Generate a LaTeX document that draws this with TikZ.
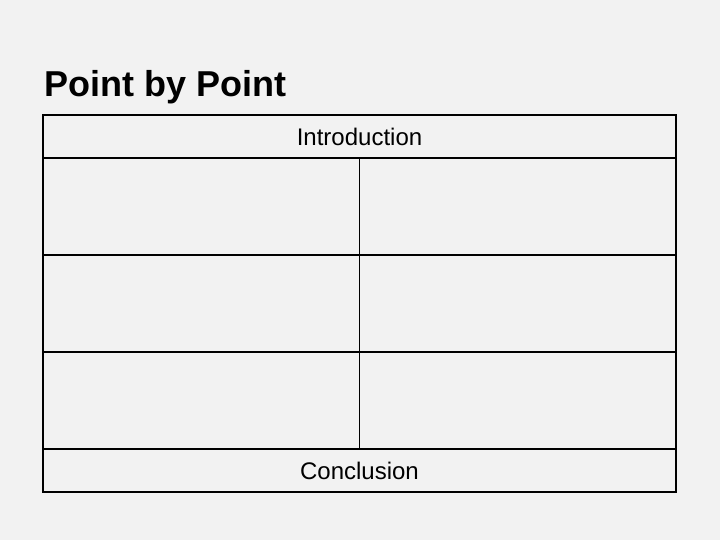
\documentclass[tikz,border=0pt]{standalone}
\usepackage{fontspec}
\setmainfont{Liberation Sans}
\usetikzlibrary{positioning}
\definecolor{paper}{HTML}{F2F2F2}
\tikzset{node distance=0pt, row/.style={draw,rectangle,line width=0.6pt,inner sep=0pt,outer sep=0pt,minimum width=316.5pt,minimum height=21.5pt,font=\fontsize{12}{14}\selectfont}, cell/.style={draw,rectangle,line width=0.6pt,inner sep=0pt,outer sep=0pt,minimum width=158.25pt,minimum height=48.5pt}}

\begin{document}
\begin{tikzpicture}
				\fill[paper] (0pt,0pt) rectangle (360pt,-270pt);
				\useasboundingbox (0pt,0pt) rectangle (360pt,-270pt);

				\node[anchor=base west,inner sep=0pt,font=\fontsize{18}{22}\selectfont\bfseries] (title) at (22pt,-48.5pt) {Point by Point};

				\node[row,anchor=north west] (intro) at (21.5pt,-57.5pt) {Introduction};
				\node[cell] (L1) [below=of intro.south west,anchor=north west] {};
				\node[cell] (R1) [right=of L1] {};
				\node[cell] (L2) [below=of L1] {};
				\node[cell] (R2) [right=of L2] {};
				\node[cell] (L3) [below=of L2] {};
				\node[cell] (R3) [right=of L3] {};
				\node[row] (concl) [below=of L3.south west,anchor=north west] {Conclusion};
			\end{tikzpicture}
\end{document}
